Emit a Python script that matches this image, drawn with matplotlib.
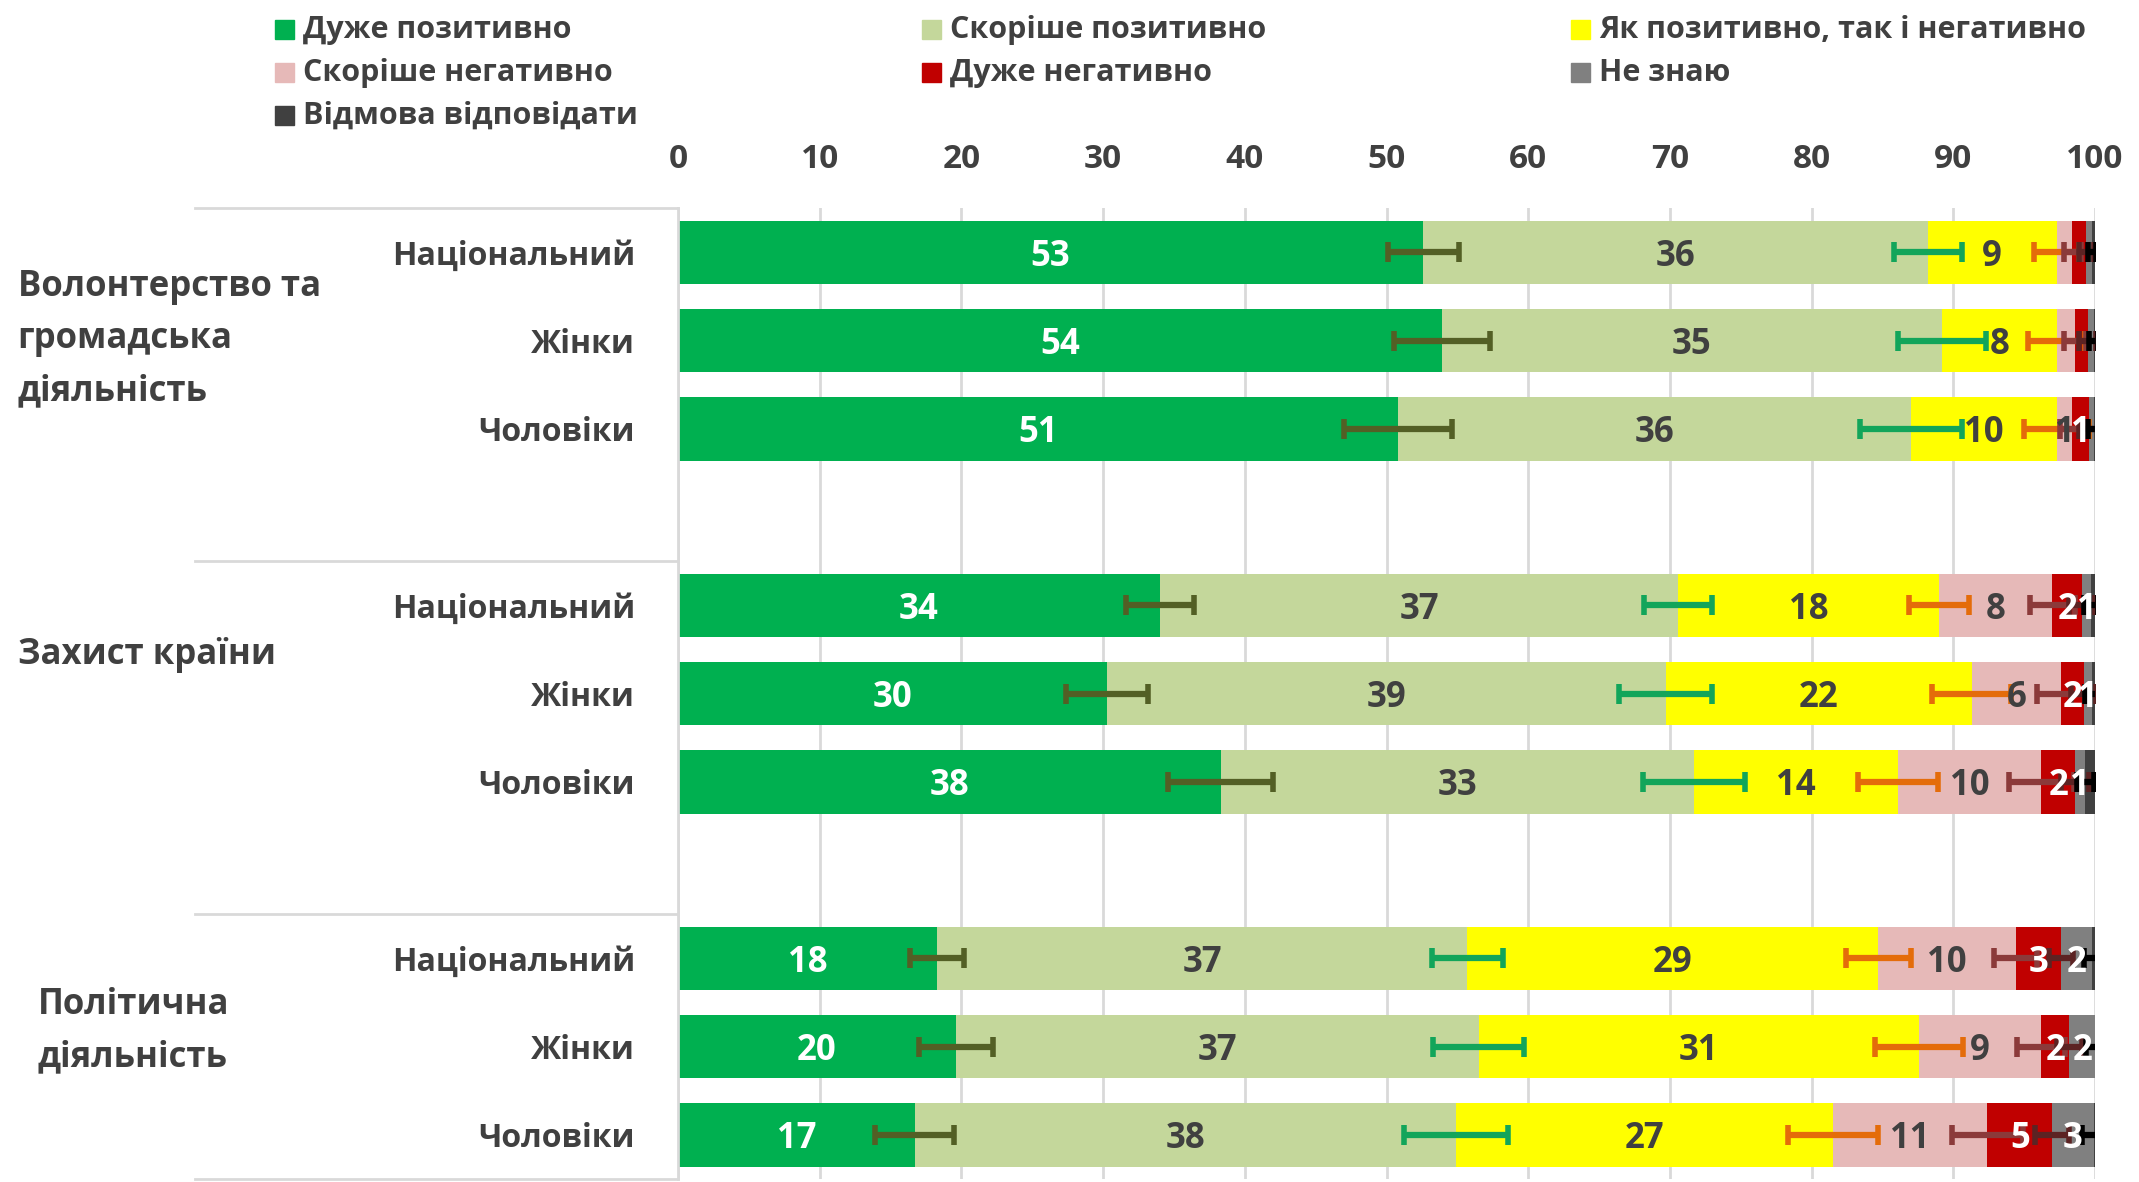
import matplotlib.pyplot as plt
from matplotlib.patches import Rectangle

plt.rcParams['font.family'] = ['Open Sans', 'DejaVu Sans']
plt.rcParams['font.weight'] = 'bold'

W, H = 2139, 1182
TEXT = '#404040'

groups = ['Волонтерство та\nгромадська\nдіяльність', 'Захист країни', 'Політична\nдіяльність']
subgroups = ['Національний', 'Жінки', 'Чоловіки']
categories = ['Дуже позитивно', 'Скоріше позитивно', 'Як позитивно, так і негативно',
              'Скоріше негативно', 'Дуже негативно', 'Не знаю', 'Відмова відповідати']
colors = ['#00b050', '#c4d79b', '#ffff00', '#e6b9b8', '#c00000', '#808080', '#404040']
label_colors = ['white', TEXT, TEXT, TEXT, 'white', 'white', None]
err_colors = ['#535f25', '#12a55a', '#e46c0a', '#8b3a3a', '#5c2323', '#000000']

# one value per bar: Vol (Нац, Ж, Ч), Def (Нац, Ж, Ч), Pol (Нац, Ж, Ч)
very_pos = [52.6, 53.9, 50.8, 34.0, 30.3, 38.3, 18.3, 19.6, 16.7]
rather_pos = [35.6, 35.3, 36.2, 36.6, 39.4, 33.4, 37.4, 36.9, 38.2]
mixed = [9.1, 8.1, 10.3, 18.4, 21.6, 14.4, 29.0, 31.1, 26.6]
rather_neg = [1.1, 1.3, 1.1, 8.0, 6.3, 10.1, 9.7, 8.6, 10.9]
very_neg = [1.0, 0.9, 1.2, 2.1, 1.6, 2.4, 3.2, 2.0, 4.6]
dont_know = [0.4, 0.4, 0.3, 0.6, 0.6, 0.7, 2.2, 1.8, 2.9]
refuse = [0.2, 0.1, 0.1, 0.3, 0.2, 0.7, 0.2, 0.0, 0.1]
series = [very_pos, rather_pos, mixed, rather_neg, very_neg, dont_know, refuse]

# margins of error at the end of each segment
err_very_pos = [2.5, 3.4, 3.8, 2.4, 2.9, 3.7, 1.9, 2.6, 2.8]
err_rather_pos = [2.4, 3.1, 3.6, 2.4, 3.3, 3.6, 2.5, 3.2, 3.7]
err_mixed = [1.6, 2.0, 2.3, 2.1, 2.8, 2.8, 2.3, 3.1, 3.2]
err_rather_neg = [0.6, 0.8, 0.9, 1.6, 1.7, 2.3, 1.5, 1.7, 2.5]
err_very_neg = [0.5, 0.6, 0.7, 0.9, 0.9, 1.0, 0.85, 0.9, 1.2]
err_dont_know = [0.3, 0.3, 0.4, 0.5, 0.5, 0.6, 0.6, 0.6, 0.8]
errors = [err_very_pos, err_rather_pos, err_mixed, err_rather_neg, err_very_neg, err_dont_know]

# labels removed in the source for these (bar, series) pairs
unlabeled = {(0, 3), (0, 4), (1, 3), (1, 4)}

ypos = [0, 1, 2, 4, 5, 6, 8, 9, 10]

fig = plt.figure(figsize=(W / 100, H / 100), dpi=100)
ax = fig.add_axes([678 / W, 0.0025, 1417 / W, 0.8214])

left = [0.0] * len(ypos)
ends = []
for k, vals in enumerate(series):
    ax.barh(ypos, vals, left=left, height=0.72, color=colors[k], zorder=2)
    for i, (y, v) in enumerate(zip(ypos, vals)):
        if label_colors[k] is None or (i, k) in unlabeled or round(v) < 1:
            continue
        ax.text(left[i] + v / 2, y, f'{v:.0f}', ha='center', va='center_baseline',
                color=label_colors[k], fontsize=25, fontweight='bold', zorder=5)
    left = [l + v for l, v in zip(left, vals)]
    ends.append(list(left))

for k, err in enumerate(errors):
    ax.errorbar(ends[k], ypos, xerr=err, fmt='none', ecolor=err_colors[k],
                elinewidth=4.5, capsize=7, capthick=4, zorder=4)

ax.set_xlim(0, 100)
ax.set_ylim(10.5, -0.5)
ax.xaxis.tick_top()
ax.set_xticks(range(0, 101, 10))
ax.tick_params(axis='x', length=0, pad=23, labelsize=24, labelcolor=TEXT)
ax.set_yticks(ypos, subgroups * 3)
ax.tick_params(axis='y', length=0, pad=31, labelsize=23, labelcolor=TEXT)
ax.grid(axis='x', color='#d9d9d9', linewidth=2)
ax.set_axisbelow(True)
for side in ['top', 'right', 'bottom']:
    ax.spines[side].set_visible(False)
ax.spines['left'].set_color('#d9d9d9')
ax.spines['left'].set_linewidth(2)

# group separators to the left of the plot
trans = ax.get_yaxis_transform()
for yy in [-0.5, 3.5, 7.5, 10.5]:
    ax.plot([-0.341, 0], [yy, yy], transform=trans, color='#d9d9d9', lw=2, clip_on=False)

ax.text(-0.466, 0.98, groups[0], transform=trans, ha='left', va='center',
        fontsize=25, color=TEXT, linespacing=1.6)
ax.text(-0.466, 4.56, groups[1], transform=trans, ha='left', va='center',
        fontsize=25, color=TEXT)
ax.text(-0.452, 8.82, groups[2], transform=trans, ha='left', va='center',
        fontsize=25, color=TEXT, linespacing=1.6)

# legend, three columns filled row by row
col_x = [275, 922, 1571]
row_y = [30, 73, 116]
for k, name in enumerate(categories):
    x = col_x[k % 3]
    y = row_y[k // 3]
    fig.patches.append(Rectangle((x / W, 1 - (y + 9) / H), 19 / W, 19 / H,
                                 transform=fig.transFigure, color=colors[k]))
    fig.text((x + 28) / W, 1 - y / H, name, ha='left', va='center',
             fontsize=22, color=TEXT)

fig.savefig('out.png', dpi=100)
